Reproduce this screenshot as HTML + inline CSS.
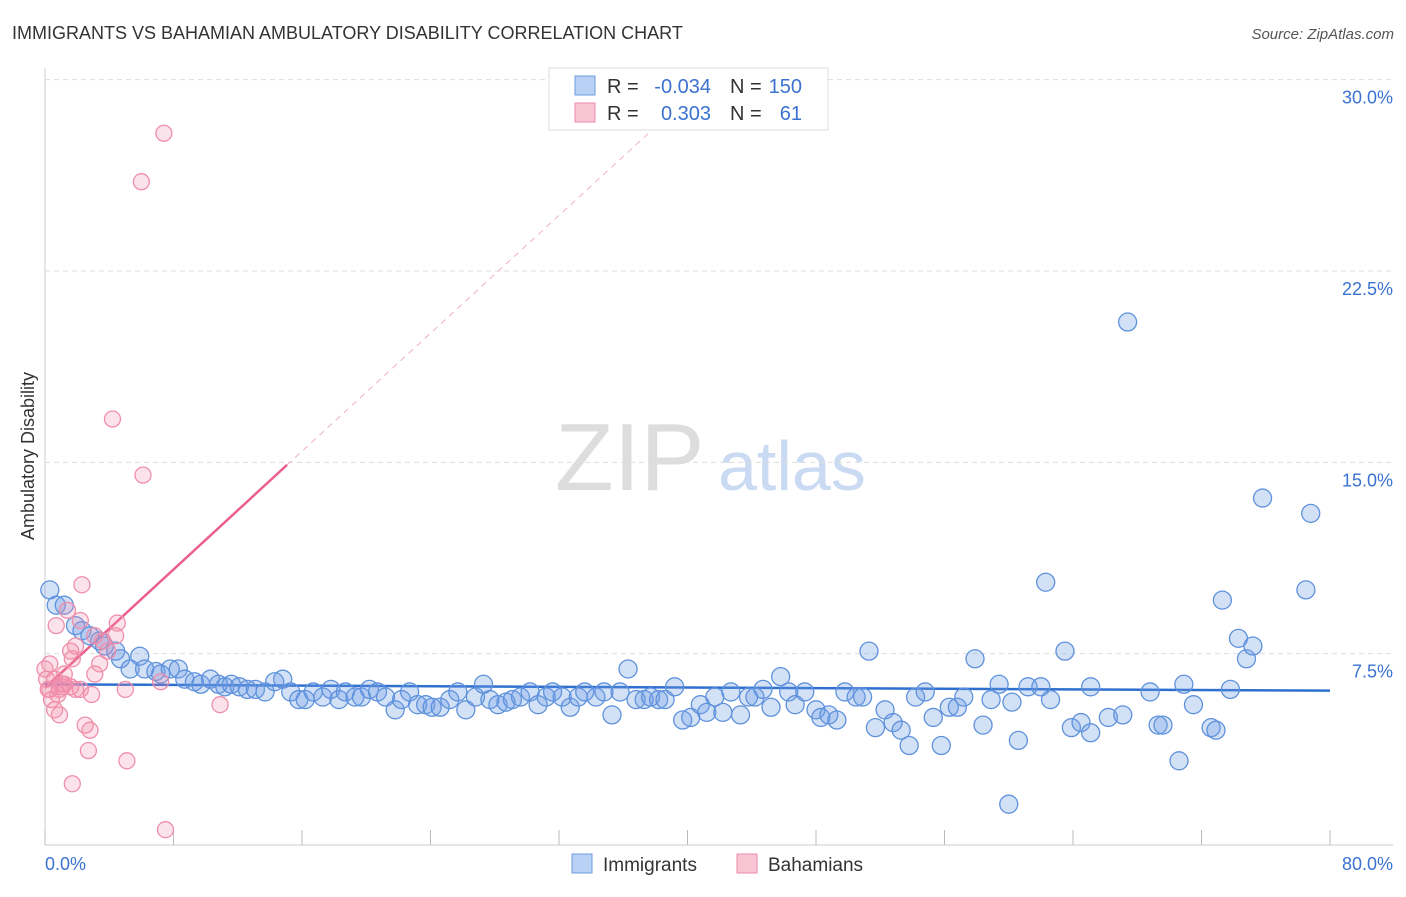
<!DOCTYPE html>
<html><head><meta charset="utf-8"><style>
body{margin:0;background:#fff;font-family:"Liberation Sans",sans-serif;}
svg text{font-family:"Liberation Sans",sans-serif;}
</style></head><body>
<svg id="chart" width="1406" height="892" xmlns="http://www.w3.org/2000/svg">
<text x="12" y="39" font-size="18" fill="#333">IMMIGRANTS VS BAHAMIAN AMBULATORY DISABILITY CORRELATION CHART</text>
<text x="1394" y="39" font-size="15" fill="#555" text-anchor="end" font-style="italic">Source: ZipAtlas.com</text>
<g>
<text x="555" y="490" font-size="96" fill="#ddd" font-family="Liberation Serif,serif">ZIP</text>
<text x="718" y="490" font-size="70" fill="#c9daf2">atlas</text>
</g>
<g id="grid"></g>
<g id="axes"></g>
<g id="trend"></g>
<g id="points"></g>
<text transform="translate(34,456) rotate(-90)" font-size="18" fill="#333" text-anchor="middle">Ambulatory Disability</text>
<g>
<rect x="549" y="68" width="279" height="62" fill="#fff" stroke="#ddd"/>
<rect x="575" y="76" width="20" height="19" fill="#b9d1f4" stroke="#6d9be0"/>
<rect x="575" y="103" width="20" height="19" fill="#f9c5d5" stroke="#ee8aa8"/>
<text x="607" y="93" font-size="20" fill="#333">R =</text>
<text x="711" y="93" font-size="20" fill="#3b72d1" text-anchor="end">-0.034</text>
<text x="730" y="93" font-size="20" fill="#333">N =</text>
<text x="802" y="93" font-size="20" fill="#3b72d1" text-anchor="end">150</text>
<text x="607" y="120" font-size="20" fill="#333">R =</text>
<text x="711" y="120" font-size="20" fill="#3b72d1" text-anchor="end">0.303</text>
<text x="730" y="120" font-size="20" fill="#333">N =</text>
<text x="802" y="120" font-size="20" fill="#3b72d1" text-anchor="end">61</text>
</g>
<g>
<rect x="572" y="854" width="20" height="19" fill="#b9d1f4" stroke="#6d9be0"/>
<text x="603" y="871" font-size="19" fill="#333">Immigrants</text>
<rect x="737" y="854" width="20" height="19" fill="#f9c5d5" stroke="#ee8aa8"/>
<text x="768" y="871" font-size="19" fill="#333">Bahamians</text>
</g>
</svg>
<script>
const yTicks=[7.5,15,22.5,30];
const yTickLabels=["7.5%","15.0%","22.5%","30.0%"];
const xTicks=[0,8,16,24,32,40,48,56,64,72,80];
const blueX=[0.3,0.7,1.2,1.9,2.3,2.8,3.4,3.7,4.4,4.7,5.3,5.9,6.2,6.9,7.2,7.8,8.3,8.7,9.3,9.7,10.3,10.8,11.2,11.6,12.1,12.6,13.1,13.7,14.3,14.8,15.3,15.8,16.2,16.7,17.3,17.8,18.3,18.7,19.3,19.7,20.2,20.7,21.2,21.8,22.2,22.7,23.2,23.7,24.1,24.6,25.2,25.7,26.2,26.8,27.3,27.7,28.2,28.7,29.1,29.6,30.2,30.7,31.2,31.6,32.2,32.7,33.2,33.6,34.3,34.8,35.3,35.8,36.3,36.8,37.3,37.7,38.2,38.6,39.2,39.7,40.2,40.8,41.2,41.7,42.2,42.7,43.3,43.8,44.2,44.7,45.2,45.8,46.3,46.7,47.3,48.0,48.3,48.8,49.3,49.8,50.5,50.9,51.3,51.7,52.3,52.8,53.3,53.8,54.2,54.8,55.3,55.8,56.3,56.8,57.2,57.9,58.4,58.9,59.4,60.0,60.2,60.6,61.2,62.0,62.3,62.6,63.5,63.9,64.5,65.1,65.1,66.2,67.1,67.4,68.8,69.3,69.6,70.6,70.9,71.5,72.6,72.9,73.3,73.8,74.3,74.8,75.2,75.8,78.5,78.8];
const blueY=[10.0,9.4,9.4,8.6,8.4,8.2,8.0,7.8,7.6,7.3,6.9,7.4,6.9,6.8,6.7,6.9,6.9,6.5,6.4,6.3,6.5,6.3,6.2,6.3,6.2,6.1,6.1,6.0,6.4,6.5,6.0,5.7,5.7,6.0,5.8,6.1,5.7,6.0,5.8,5.8,6.1,6.0,5.8,5.3,5.7,6.0,5.5,5.5,5.4,5.4,5.7,6.0,5.3,5.8,6.3,5.7,5.5,5.6,5.7,5.8,6.0,5.5,5.8,6.0,5.8,5.4,5.8,6.0,5.8,6.0,5.1,6.0,6.9,5.7,5.7,5.8,5.7,5.7,6.2,4.9,5.0,5.5,5.2,5.8,5.2,6.0,5.1,5.8,5.8,6.1,5.4,6.6,6.0,5.5,6.0,5.3,5.0,5.1,4.9,6.0,5.8,5.8,7.6,4.6,5.3,4.8,4.5,3.9,5.8,6.0,5.0,3.9,5.4,5.4,5.8,7.3,4.7,5.7,6.3,1.6,5.6,4.1,6.2,6.2,10.3,5.7,7.6,4.6,4.8,6.2,4.4,5.0,5.1,20.5,6.0,4.7,4.7,3.3,6.3,5.5,4.6,4.5,9.6,6.1,8.1,7.3,7.8,13.6,10.0,13.0];
const pinkX=[0,0.1,0.3,0.4,0.6,0.7,0.9,1.1,1.2,1.4,1.6,1.7,1.9,1.7,2.2,2.3,2.5,2.7,2.8,2.9,3.1,3.4,3.6,3.9,4.2,4.4,4.5,5.0,5.1,6.0,6.1,7.2,7.4,7.5,10.9,0.2,0.3,0.6,0.9,1.2,1.6,1.9,0.8,1.1,2.2,3.1];
const pinkY=[6.9,6.5,6.1,5.7,5.3,8.6,5.1,6.3,6.7,9.2,7.6,7.3,7.8,2.4,6.1,10.2,4.7,3.7,4.5,5.9,6.7,7.1,8.0,7.6,16.7,8.2,8.7,6.1,3.3,26.0,14.5,6.4,27.9,0.6,5.5,6.1,7.1,6.5,6.1,6.3,6.2,6.1,5.9,6.2,8.8,8.2];
const blueTrend=[[0,6.3],[80,6.05]];
const pinkTrend=[[0,6.16],[15.07,14.9]];
const pinkTrendDash=[[15.07,14.9],[40,29.3]];

const X=v=>45+v*(1330-45)/80;
const Y=v=>845-v*(654-80)/22.5;
const NS="http://www.w3.org/2000/svg";
function mk(parent,tag,attrs){const e=document.createElementNS(NS,tag);for(const k in attrs)e.setAttribute(k,attrs[k]);document.getElementById(parent).appendChild(e);return e;}

yTicks.forEach((t,i)=>{
 const l=mk('grid','line',{x1:45,x2:1393,y1:Y(t),y2:Y(t),stroke:'#ddd','stroke-dasharray':'5,4'});
 
 
 const tx=mk('grid','text',{x:1393,y:Y(t)+24,'font-size':18,fill:'#3b72d1','text-anchor':'end'});
 tx.textContent=yTickLabels[i];
 
 
});
let a=mk('axes','line',{x1:45,x2:45,y1:68,y2:845,stroke:'#ccc'});


a=mk('axes','line',{x1:45,x2:1393,y1:845,y2:845,stroke:'#ccc'});


xTicks.forEach(t=>{
 const l=mk('axes','line',{x1:X(t),x2:X(t),y1:830,y2:845,stroke:'#bbb'});
 
 
});
let t0=mk('axes','text',{x:45,y:870,'font-size':18,fill:'#3b72d1'});t0.textContent='0.0%';


let t1=mk('axes','text',{x:1393,y:870,'font-size':18,fill:'#3b72d1','text-anchor':'end'});t1.textContent='80.0%';



blueX.forEach((v,i)=>{
 const c=mk('points','circle',{cx:X(v),cy:Y(blueY[i]),r:9,fill:'rgba(110,155,230,0.3)',stroke:'#5f92dc','stroke-width':1.3});
 
 
});
pinkX.forEach((v,i)=>{
 const c=mk('points','circle',{cx:X(v),cy:Y(pinkY[i]),r:8,fill:'rgba(245,140,170,0.25)',stroke:'#ef8fac','stroke-width':1.3});
 
 
});
let l=mk('trend','line',{x1:X(blueTrend[0][0]),y1:Y(blueTrend[0][1]),x2:X(blueTrend[1][0]),y2:Y(blueTrend[1][1]),stroke:'#2f6fd0','stroke-width':2.5});


l=mk('trend','line',{x1:X(pinkTrend[0][0]),y1:Y(pinkTrend[0][1]),x2:X(pinkTrend[1][0]),y2:Y(pinkTrend[1][1]),stroke:'#ea5f8c','stroke-width':2.5});


l=mk('trend','line',{x1:X(pinkTrendDash[0][0]),y1:Y(pinkTrendDash[0][1]),x2:X(pinkTrendDash[1][0]),y2:Y(pinkTrendDash[1][1]),stroke:'#f0b0c4','stroke-width':1,'stroke-dasharray':'6,5'});


</script>
</body></html>
